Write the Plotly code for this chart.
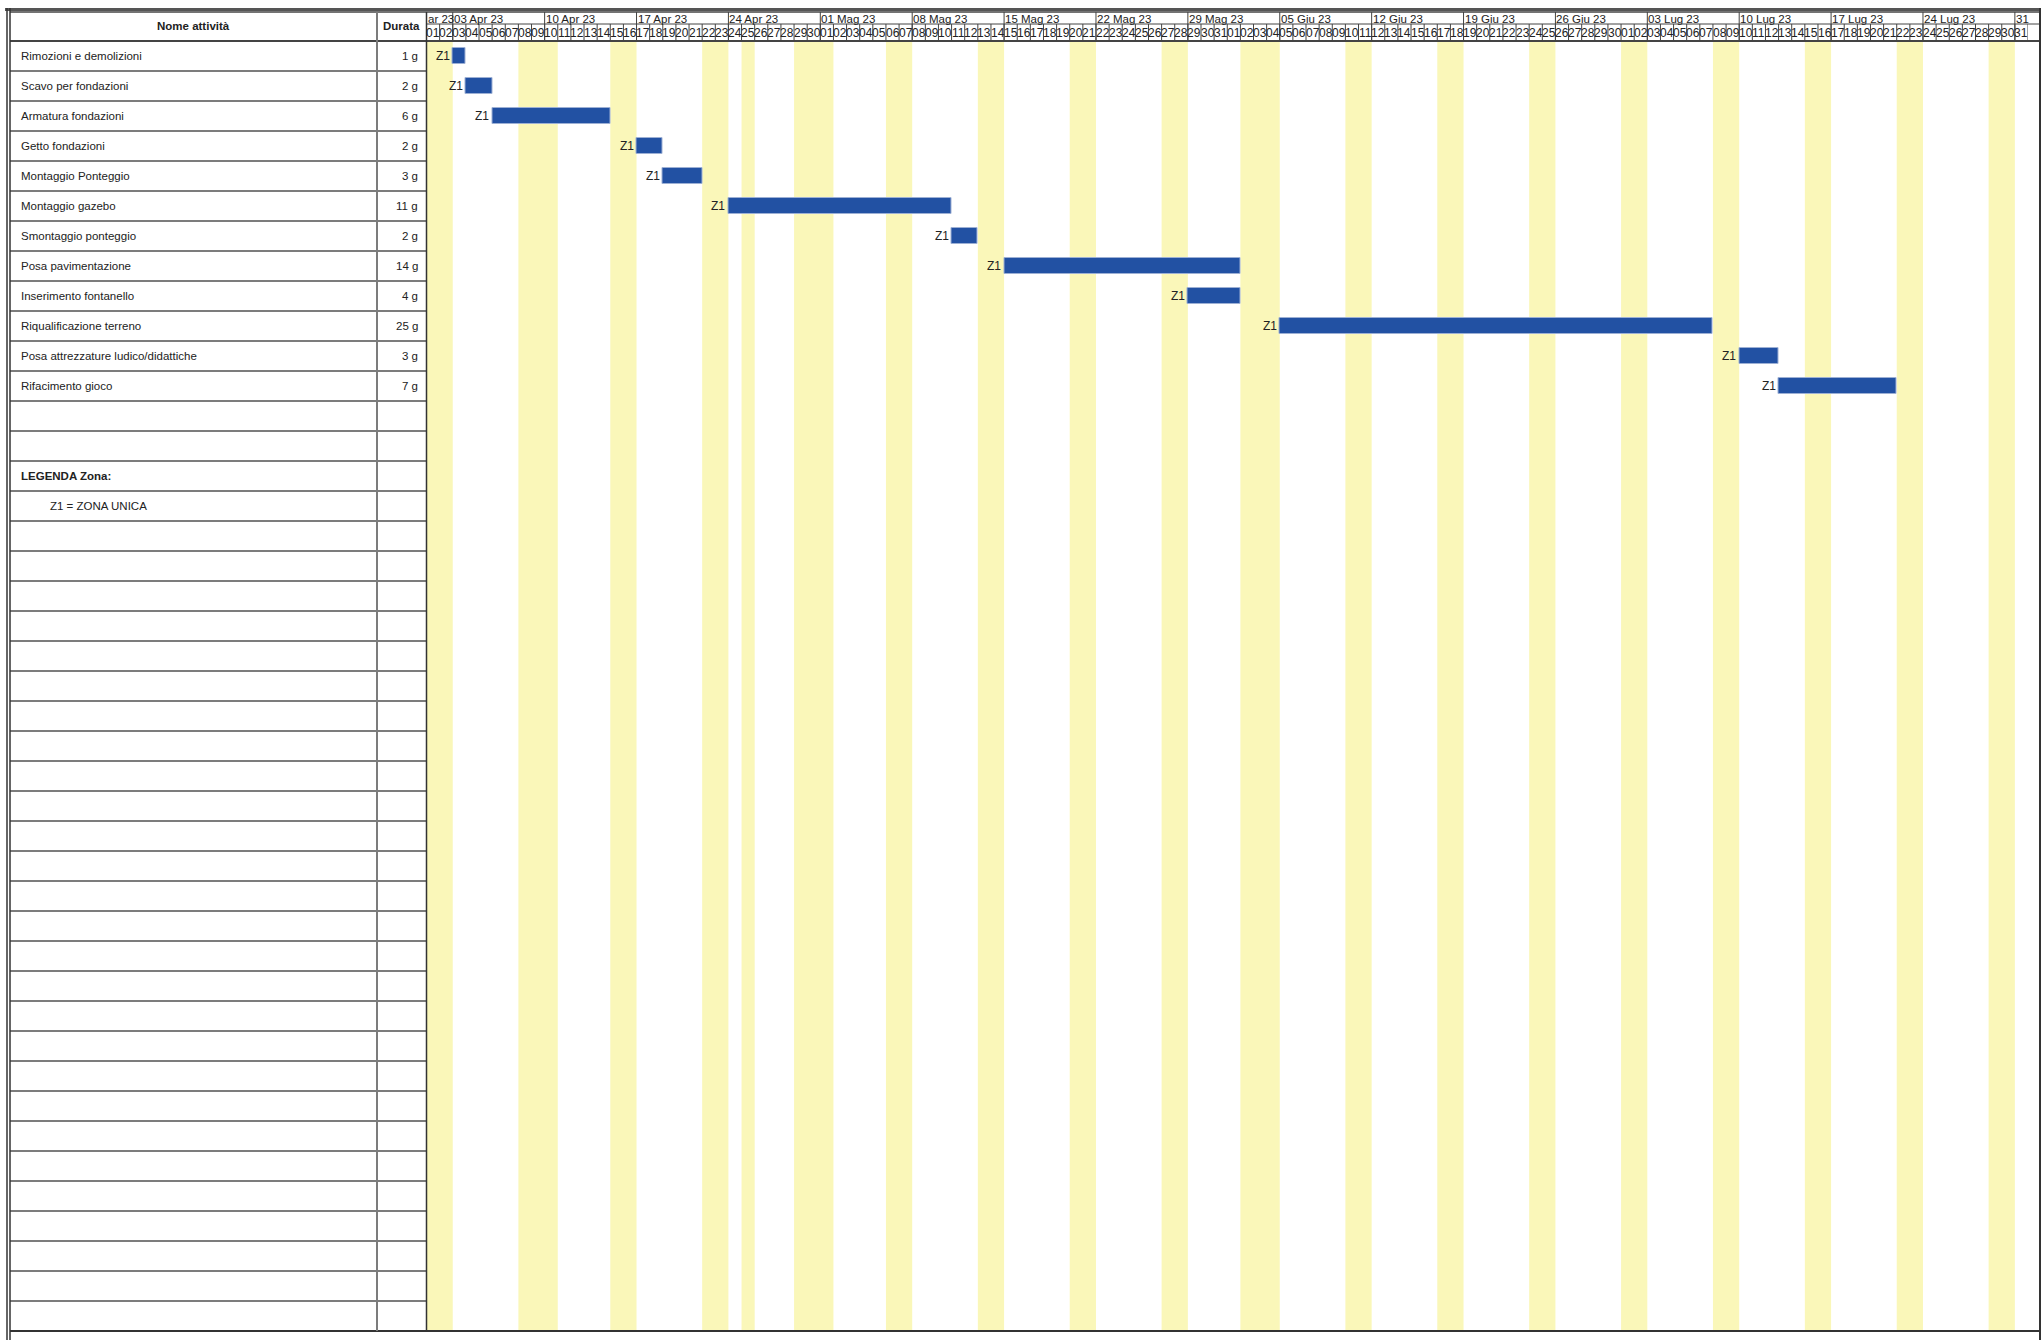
import datetime as dt
import plotly.graph_objects as go

# ---------------- data ----------------
tasks = ["Rimozioni e demolizioni", "Scavo per fondazioni", "Armatura fondazioni",
         "Getto fondazioni", "Montaggio Ponteggio", "Montaggio gazebo",
         "Smontaggio ponteggio", "Posa pavimentazione", "Inserimento fontanello",
         "Riqualificazione terreno", "Posa attrezzature ludico/didattiche", "Rifacimento gioco"]
durations = ["1 g", "2 g", "6 g", "2 g", "3 g", "11 g", "2 g", "14 g", "4 g", "25 g", "3 g", "7 g"]
starts = ["2023-04-03", "2023-04-04", "2023-04-06", "2023-04-17", "2023-04-19", "2023-04-24",
          "2023-05-11", "2023-05-15", "2023-05-29", "2023-06-05", "2023-07-10", "2023-07-13"]
ends = ["2023-04-03", "2023-04-05", "2023-04-14", "2023-04-18", "2023-04-21", "2023-05-10",
        "2023-05-12", "2023-06-01", "2023-06-01", "2023-07-07", "2023-07-12", "2023-07-21"]
zones = ["Z1"] * 12
holidays = ["2023-04-10", "2023-04-25", "2023-05-01", "2023-06-02"]
week_labels = ["ar 23", "03 Apr 23", "10 Apr 23", "17 Apr 23", "24 Apr 23", "01 Mag 23",
               "08 Mag 23", "15 Mag 23", "22 Mag 23", "29 Mag 23", "05 Giu 23", "12 Giu 23",
               "19 Giu 23", "26 Giu 23", "03 Lug 23", "10 Lug 23", "17 Lug 23", "24 Lug 23", "31"]
extra_rows = ["", "", "LEGENDA Zona:", "Z1 = ZONA UNICA"]
timeline_start = "2023-04-01"
timeline_end = "2023-07-31"

# ---------------- geometry ----------------
W, H = 2042, 1340
CX0, CX1 = 426.5, 2028.0
HT, HM, HB = 12, 24, 41
ROW_H = 30
N_ROWS = 43
BOT = HB + ROW_H * N_ROWS
FRAME_R = 2040
FONT = "Liberation Sans, Arial, sans-serif"
NARROW = "Liberation Sans Narrow, Arial Narrow, Liberation Sans, Arial, sans-serif"
TXT = "#222222"


def X(px):
    return px / W


def Y(py):
    return 1 - py / H


d0 = dt.date.fromisoformat(timeline_start)
d1 = dt.date.fromisoformat(timeline_end)
ndays = (d1 - d0).days + 1
days = [d0 + dt.timedelta(days=i) for i in range(ndays)]


def off(s):
    return (dt.date.fromisoformat(s) - d0).days


bstart = [off(s) for s in starts]
blen = [off(e) + 1 - off(s) for s, e in zip(starts, ends)]
rows_y = [i + 0.5 for i in range(len(tasks))]

fig = go.Figure()

# bars
fig.add_trace(go.Bar(orientation="h", y=rows_y, x=blen, base=bstart, width=0.55,
                     marker=dict(color="#2251A3", line=dict(color="#9db0d4", width=1)),
                     hoverinfo="skip", showlegend=False))

shapes = []
# non-working day bands
hol = set(holidays)
nonwork = [i for i, d in enumerate(days) if d.weekday() >= 5 or d.isoformat() in hol]
ranges = []
for i in nonwork:
    if ranges and ranges[-1][1] == i:
        ranges[-1][1] = i + 1
    else:
        ranges.append([i, i + 1])
for a, b in ranges:
    shapes.append(dict(type="rect", xref="x", yref="paper", x0=a, x1=b, y0=Y(BOT), y1=Y(HB),
                       fillcolor="#FAF7B9", line=dict(width=0), layer="below"))


def hline(y, xa, xb, color="#333", w=1):
    shapes.append(dict(type="line", xref="paper", yref="paper", x0=X(xa), x1=X(xb),
                       y0=Y(y), y1=Y(y), line=dict(color=color, width=w)))


def vline(x, ya, yb, color="#333", w=1, xref="paper"):
    xx = X(x) if xref == "paper" else x
    shapes.append(dict(type="line", xref=xref, yref="paper", x0=xx, x1=xx,
                       y0=Y(ya), y1=Y(yb), line=dict(color=color, width=w)))


# left table row lines
for k in range(1, N_ROWS):
    hline(HB + ROW_H * k, 10, CX0, color="#7c7c7c", w=2)
hline(BOT, 10, FRAME_R, color="#333", w=2)
# header lines
hline(HT, 10, FRAME_R, color="#444", w=1.5)
hline(HM, CX0, FRAME_R, color="#444", w=1)
hline(HB, 10, FRAME_R, color="#444", w=2)
# column dividers
vline(377, HT, BOT, color="#7c7c7c", w=2)
vline(CX0, HT, BOT, color="#333", w=1.5)
# day separators (day row)
for i in range(1, ndays + 1):
    vline(i, HM, HB, color="#444", w=1, xref="x")
# week separators
for i, d in enumerate(days):
    if d.weekday() == 0:
        vline(i, HT, HB, color="#444", w=1, xref="x")
# frame
hline(9.5, 5, FRAME_R + 1, color="#555", w=3)
vline(7, 8, H, color="#333", w=1.5)
vline(10, 8, H, color="#333", w=1.5)
vline(FRAME_R, 8, H, color="#333", w=2)

ann = []
# zone labels to the left of each bar
for s, r, z in zip(bstart, rows_y, zones):
    ann.append(dict(xref="x", yref="y", x=s, y=r, text=z, showarrow=False,
                    xanchor="right", yanchor="middle", xshift=-1,
                    font=dict(family=FONT, size=12, color=TXT)))
# header texts
ann.append(dict(xref="paper", yref="paper", x=X(193.5), y=Y((HT + HB) / 2), text="<b>Nome attività</b>",
                showarrow=False, xanchor="center", yanchor="middle",
                font=dict(family=FONT, size=11.5, color=TXT)))
ann.append(dict(xref="paper", yref="paper", x=X(401.5), y=Y((HT + HB) / 2), text="<b>Durata</b>",
                showarrow=False, xanchor="center", yanchor="middle",
                font=dict(family=FONT, size=11.5, color=TXT)))
# task rows
for i, (t, du) in enumerate(zip(tasks, durations)):
    ann.append(dict(xref="paper", yref="y", x=X(19), y=i + 0.5, text=t, showarrow=False,
                    xanchor="left", yanchor="middle", font=dict(family=FONT, size=11.5, color=TXT)))
    ann.append(dict(xref="paper", yref="y", x=X(420), y=i + 0.5, text=du, showarrow=False,
                    xanchor="right", yanchor="middle", font=dict(family=FONT, size=11.5, color=TXT)))
# legend rows
for j, t in enumerate(extra_rows):
    if not t:
        continue
    r = len(tasks) + j
    if t.startswith("LEGENDA"):
        ann.append(dict(xref="paper", yref="y", x=X(19), y=r + 0.5, text="<b>" + t + "</b>",
                        showarrow=False, xanchor="left", yanchor="middle",
                        font=dict(family=FONT, size=11.5, color=TXT)))
    else:
        ann.append(dict(xref="paper", yref="y", x=X(48), y=r + 0.5, text=t,
                        showarrow=False, xanchor="left", yanchor="middle",
                        font=dict(family=FONT, size=11.5, color=TXT)))
# week labels
mondays = [i for i, d in enumerate(days) if d.weekday() == 0]
week_pos = [0] + mondays
for p, lab in zip(week_pos, week_labels):
    ann.append(dict(xref="x", yref="paper", x=p, y=Y((HT + HM) / 2 + 0.5), text=lab, showarrow=False,
                    xanchor="left", yanchor="middle", borderpad=0, xshift=0,
                    font=dict(family=FONT, size=11.5, color=TXT)))
# day numbers
for i, d in enumerate(days):
    ann.append(dict(xref="x", yref="paper", x=i + 0.5, y=Y((HM + HB) / 2 + 0.5), text=f"{d.day:02d}",
                    showarrow=False, xanchor="center", yanchor="middle", borderpad=0,
                    font=dict(family=NARROW, size=12, color=TXT)))

fig.update_layout(
    width=W, height=H, margin=dict(l=0, r=0, t=0, b=0),
    paper_bgcolor="white", plot_bgcolor="rgba(0,0,0,0)",
    xaxis=dict(domain=[X(CX0), X(CX1)], range=[0, ndays], visible=False, fixedrange=True),
    yaxis=dict(domain=[Y(BOT), Y(HB)], range=[N_ROWS, 0], visible=False, fixedrange=True),
    shapes=shapes, annotations=ann, bargap=0, showlegend=False,
)

fig.write_html("out.html", config={"displayModeBar": False},
               post_script="document.body.style.margin='0';document.body.style.overflow='hidden';")
